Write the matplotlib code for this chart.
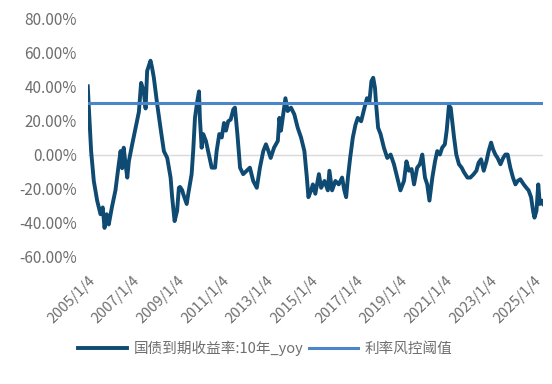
import matplotlib
matplotlib.use("Agg")
import matplotlib.pyplot as plt
import numpy as np
import pandas as pd

plt.rcParams['font.family'] = ['Noto Sans CJK SC', 'DejaVu Sans']
plt.rcParams['axes.unicode_minus'] = False

# decimal year positions
years = [
    2005.00, 2005.04, 2005.15, 2005.27, 2005.42, 2005.57, 2005.67, 2005.75, 2005.85, 2005.94,
    2006.08, 2006.24, 2006.39, 2006.47, 2006.54, 2006.61, 2006.69, 2006.77, 2006.84, 2006.99,
    2007.14, 2007.29, 2007.39, 2007.51, 2007.59, 2007.66, 2007.81, 2007.88, 2007.96, 2008.11,
    2008.26, 2008.41, 2008.56, 2008.71, 2008.78, 2008.89, 2009.00, 2009.08, 2009.13, 2009.23,
    2009.27, 2009.43, 2009.50, 2009.65, 2009.72, 2009.80, 2009.90, 2009.98, 2010.02, 2010.10,
    2010.17, 2010.29, 2010.39, 2010.55, 2010.70, 2010.77, 2010.89, 2011.00, 2011.10, 2011.19,
    2011.29, 2011.40, 2011.52, 2011.59, 2011.70, 2011.82, 2011.96, 2012.12, 2012.26, 2012.41,
    2012.57, 2012.71, 2012.86, 2012.98, 2013.09, 2013.19, 2013.34, 2013.51, 2013.58, 2013.65,
    2013.73, 2013.85, 2013.95, 2014.10, 2014.25, 2014.40, 2014.55, 2014.70, 2014.81, 2014.88,
    2015.00, 2015.08, 2015.19, 2015.35, 2015.45, 2015.60, 2015.75, 2015.82, 2015.94, 2016.09,
    2016.24, 2016.39, 2016.49, 2016.57, 2016.65, 2016.75, 2016.87, 2016.99, 2017.09, 2017.24,
    2017.39, 2017.50, 2017.61, 2017.70, 2017.78, 2017.86, 2017.91, 2018.00, 2018.11, 2018.26,
    2018.41, 2018.56, 2018.71, 2018.86, 2019.00, 2019.16, 2019.27, 2019.38, 2019.50, 2019.61,
    2019.75, 2019.87, 2019.98, 2020.10, 2020.20, 2020.30, 2020.43, 2020.55, 2020.65, 2020.77,
    2020.87, 2020.99, 2021.07, 2021.17, 2021.25, 2021.32, 2021.40, 2021.50, 2021.62, 2021.74,
    2021.85, 2022.00, 2022.13, 2022.28, 2022.40, 2022.50, 2022.61, 2022.73, 2022.85, 2022.95,
    2023.06, 2023.15, 2023.25, 2023.35, 2023.48, 2023.60, 2023.70, 2023.80, 2023.92, 2024.04,
    2024.15, 2024.25, 2024.37, 2024.52, 2024.64, 2024.74, 2024.85, 2024.94, 2025.00, 2025.09,
    2025.17, 2025.24, 2025.33, 2025.39,
]

# 国债到期收益率:10年_yoy, in percent
yoy = [
    40, 29.5, 2, -15.5, -27, -35, -31, -43, -35, -41,
    -31, -21, -5.5, 2, -8, 4, -5.5, -13.5, -4, 6,
    15.5, 25, 42, 37, 27, 49, 55, 51, 45, 29.5,
    15.5, 2, -2, -13.5, -25, -39, -33, -19.5, -19, -21,
    -23, -29, -23, -11.5, 2, 21.5, 31, 37, 21.5, 4,
    12, 8, 2, -7.7, -7.7, 2, 12, 10, 18.5, 14,
    19.5, 20.5, 26.5, 27.5, 12, -7.7, -11.5, -9.5, -7.7, -15.5,
    -19.5, -7.7, 2, 6, 2, -2, 4, 8, 21.5, 14,
    21.5, 33, 25.5, 27.5, 23.5, 15.7, 10, 2, -13.5, -25,
    -21, -17.5, -23, -11.5, -19.5, -15.5, -21, -9.5, -21, -15.5,
    -17.5, -13.5, -21, -25, -13.5, -2, 10, 17.5, 21.5, 19.5,
    27.5, 33, 31, 43, 45, 39, 29.5, 15.7, 12, 4,
    -2, 0, -5.7, -13.5, -21, -15.5, -4, -9.5, -8.5, -17.5,
    -7.7, -5.7, 0, -13.5, -17.5, -27, -13.5, -4, 2, 0,
    4, 6, 14, 28.5, 27.5, 19.5, 10, 0, -5.7, -7.7,
    -10.5, -13.5, -13.5, -11.5, -9.5, -4.8, -2.8, -9.5, -4, 2,
    7, 3, 0, -2, -5.7, -2, 0, 0, -7.7, -13.5,
    -17.5, -15.5, -14.5, -17.5, -19.5, -21, -25, -33, -37, -33,
    -17.5, -29, -27, -29,
]

threshold = 30  # 利率风控阈值, percent

series_names = ["国债到期收益率:10年_yoy", "利率风控阈值"]
tick_years = list(range(2005, 2026, 2))
y_ticks = [80, 60, 40, 20, 0, -20, -40, -60]


def to_date(y):
    yr = int(np.floor(y))
    start = pd.Timestamp(year=yr, month=1, day=4)
    return start + pd.Timedelta(days=(y - yr) * 365.25)


dates = [to_date(y) for y in years]

fig = plt.figure(figsize=(5.52, 3.84), dpi=100)
ax = fig.add_axes([0.159, 0.331, 0.825, 0.622])

ax.plot(dates, yoy, color="#0e4a72", lw=2.8, solid_joinstyle="round",
        label=series_names[0], zorder=3)
ax.plot([dates[0], dates[-1]], [threshold, threshold], color="#4a86c8", lw=2.2,
        label=series_names[1], zorder=4)
ax.axhline(0, color="#d9d9d9", lw=1.0, zorder=1)

ax.set_xlim(dates[0], dates[-1])
ax.set_ylim(-60, 80)
ax.set_yticks(y_ticks)
ax.set_yticklabels([f"{v:.2f}%" for v in y_ticks])

tick_dates = [pd.Timestamp(year=y, month=1, day=4) for y in tick_years]
ax.set_xticks(tick_dates)
ax.set_xticklabels([f"{d.year}/1/4" for d in tick_dates], rotation=45,
                   ha="right", rotation_mode="anchor")

for s in ax.spines.values():
    s.set_visible(False)
ax.tick_params(axis="both", length=0, colors="#6e6e6e", labelsize=10.5)
ax.tick_params(axis="y", pad=8, labelsize=11)
ax.tick_params(axis="x", pad=12)

leg = fig.legend(loc="center", bbox_to_anchor=(0.48, 0.094), ncol=2, frameon=False,
                 fontsize=10.5, handlelength=3.4, handletextpad=0.4, columnspacing=0.4)
for t in leg.get_texts():
    t.set_color("#6e6e6e")

fig.savefig("out.png", dpi=100, facecolor="white")
